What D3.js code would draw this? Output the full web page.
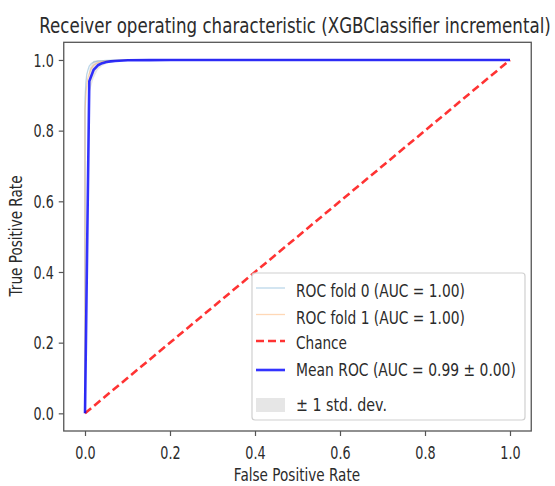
<!DOCTYPE html>
<html>
<head>
<meta charset="utf-8">
<script src="https://cdn.jsdelivr.net/npm/d3@7"></script>
<style>
  html, body { margin: 0; padding: 0; background: #fff; }
  svg { display: block; }
  text { font-family: "DejaVu Sans", sans-serif; fill: #2b2b2b; }
</style>
</head>
<body>
<svg id="chart" width="555" height="486"></svg>
<script>
// ---------- data ----------
const titleText = "Receiver operating characteristic (XGBClassifier incremental)";
const xLabel = "False Positive Rate";
const yLabel = "True Positive Rate";
const tickValues = [0.0, 0.2, 0.4, 0.6, 0.8, 1.0];
const tickLabels = ["0.0", "0.2", "0.4", "0.6", "0.8", "1.0"];

const fold0Fpr = [0, 0, 0.002, 0.004, 0.007, 0.010, 0.015, 0.020, 0.030, 0.050, 0.080, 1.0];
const fold0Tpr = [0, 0.89, 0.935, 0.958, 0.972, 0.983, 0.990, 0.994, 0.997, 0.999, 1.0, 1.0];
const fold1Fpr = [0, 0, 0.003, 0.006, 0.010, 0.014, 0.020, 0.028, 0.040, 0.060, 0.100, 1.0];
const fold1Tpr = [0, 0.86, 0.915, 0.945, 0.962, 0.975, 0.985, 0.991, 0.995, 0.998, 1.0, 1.0];

const meanFpr = [0, 0.0101, 0.0202, 0.0303, 0.0404, 0.0505, 0.0606, 0.0707, 0.0808, 0.1010, 0.1515, 0.2020, 0.3030, 0.5051, 0.7071, 1.0];
const meanTpr = [0, 0.940, 0.972, 0.985, 0.991, 0.994, 0.996, 0.997, 0.998, 0.999, 0.9995, 1.0, 1.0, 1.0, 1.0, 1.0];
const upperTpr = [0, 0.975, 0.998, 1.0, 1.0, 1.0, 1.0, 1.0, 1.0, 1.0, 1.0, 1.0, 1.0, 1.0, 1.0, 1.0];
const lowerTpr = [0, 0.905, 0.948, 0.972, 0.983, 0.989, 0.992, 0.994, 0.996, 0.998, 0.999, 1.0, 1.0, 1.0, 1.0, 1.0];

const chanceX = [0, 1];
const chanceY = [0, 1];

const legendLabels = ["ROC fold 0 (AUC = 1.00)", "ROC fold 1 (AUC = 1.00)", "Chance", "Mean ROC (AUC = 0.99 \u00b1 0.00)", "\u00b1 1 std. dev."];

// ---------- layout ----------
const svg = d3.select("#chart");
const pL = 63.75, pR = 531.25, pT = 42.3, pB = 431;
const x = d3.scaleLinear().domain([-0.05, 1.05]).range([pL, pR]);
const y = d3.scaleLinear().domain([-0.05, 1.05]).range([pB, pT]);
const SX = 0.8;
const legendWidths = [169, 169, 51, 220, 91];

// text drawn at natural size, then squeezed horizontally with a transform
function squeezedText(parent, px, py, str, size, anchor, opts) {
  const g = parent.append("g");
  const tx = g.append("text").attr("x", 0).attr("y", 0).attr("text-anchor", anchor)
    .style("font-size", size + "px").text(str);
  if (opts.dy) tx.attr("dy", opts.dy);
  const n = tx.node().getComputedTextLength();
  const s = opts.width ? opts.width / n : opts.factor;
  const rot = opts.rotate ? ` rotate(${opts.rotate})` : "";
  g.attr("transform", `translate(${px},${py})${rot} scale(${s},1)`);
  return g;
}
function squeeze(sel, factor) {
  sel.each(function() {
    const n = this.getComputedTextLength();
    d3.select(this).attr("textLength", n * factor).attr("lengthAdjust", "spacingAndGlyphs");
  });
}

const defs = svg.append("defs");
defs.append("clipPath").attr("id", "plotclip")
  .append("rect").attr("x", pL).attr("y", pT).attr("width", pR - pL).attr("height", pB - pT);

const plot = svg.append("g").attr("clip-path", "url(#plotclip)");

// std band
const idx = d3.range(meanFpr.length);
plot.append("path")
  .datum(idx)
  .attr("d", d3.area().x(i => x(meanFpr[i])).y0(i => y(lowerTpr[i])).y1(i => y(upperTpr[i])))
  .attr("fill", "#808080").attr("fill-opacity", 0.2);

// fold lines
const lineXY = (xs, ys) => d3.line().x(i => x(xs[i])).y(i => y(ys[i]))(d3.range(xs.length));
plot.append("path").attr("d", lineXY(fold0Fpr, fold0Tpr))
  .attr("fill", "none").attr("stroke", "#1f77b4").attr("stroke-opacity", 0.3).attr("stroke-width", 1.3);
plot.append("path").attr("d", lineXY(fold1Fpr, fold1Tpr))
  .attr("fill", "none").attr("stroke", "#ff7f0e").attr("stroke-opacity", 0.3).attr("stroke-width", 1.3);

// chance
plot.append("path").attr("d", lineXY(chanceX, chanceY))
  .attr("fill", "none").attr("stroke", "#ff0000").attr("stroke-opacity", 0.8)
  .attr("stroke-width", 2.6).attr("stroke-dasharray", "8,4");

// mean
plot.append("path").attr("d", lineXY(meanFpr, meanTpr))
  .attr("fill", "none").attr("stroke", "#0000ff").attr("stroke-opacity", 0.8)
  .attr("stroke-width", 2.6).attr("stroke-linejoin", "round");

// axes
const xAxis = svg.append("g").attr("transform", `translate(0,${pB})`)
  .call(d3.axisBottom(x).tickValues(tickValues).tickFormat((d, i) => tickLabels[i]).tickSize(5).tickPadding(4));
const yAxis = svg.append("g").attr("transform", `translate(${pL},0)`)
  .call(d3.axisLeft(y).tickValues(tickValues).tickFormat((d, i) => tickLabels[i]).tickSize(5).tickPadding(5));
[xAxis, yAxis].forEach(a => {
  a.select(".domain").remove();
  a.selectAll(".tick line").attr("stroke", "#555").attr("stroke-width", 1.2);
  a.selectAll(".tick text").style("font-family", "DejaVu Sans").style("font-size", "17px").attr("fill", "#333");
});
xAxis.selectAll(".tick text").attr("dy", null).attr("y", 28);
yAxis.selectAll(".tick text").attr("dy", "0.36em");
squeeze(xAxis.selectAll(".tick text"), 0.75);
squeeze(yAxis.selectAll(".tick text"), 0.75);

// frame
svg.append("rect").attr("x", pL).attr("y", pT).attr("width", pR - pL).attr("height", pB - pT)
  .attr("fill", "none").attr("stroke", "#555").attr("stroke-width", 1.3);

// title
squeezedText(svg, 295, 33, titleText, 21, "middle", { width: 512 });

// axis labels
squeezedText(svg, 297, 481, xLabel, 17, "middle", { factor: SX });
squeezedText(svg, 22, 236, yLabel, 17, "middle", { factor: SX, rotate: -90 });

// legend
const lg = svg.append("g");
lg.append("rect").attr("x", 252).attr("y", 273).attr("width", 273).attr("height", 147)
  .attr("rx", 3).attr("fill", "#fff").attr("fill-opacity", 0.8).attr("stroke", "#d0d0d0").attr("stroke-width", 1.2);
const rowY = [291, 317.5, 343, 370, 405];
const hx0 = 256, hx1 = 285, tx0 = 296;
lg.append("line").attr("x1", hx0).attr("x2", hx1).attr("y1", rowY[0] - 3).attr("y2", rowY[0] - 3)
  .attr("stroke", "#1f77b4").attr("stroke-opacity", 0.3).attr("stroke-width", 1.3);
lg.append("line").attr("x1", hx0).attr("x2", hx1).attr("y1", rowY[1] - 3).attr("y2", rowY[1] - 3)
  .attr("stroke", "#ff7f0e").attr("stroke-opacity", 0.3).attr("stroke-width", 1.3);
lg.append("line").attr("x1", hx0).attr("x2", hx1).attr("y1", rowY[2] - 2).attr("y2", rowY[2] - 2)
  .attr("stroke", "#ff0000").attr("stroke-opacity", 0.8).attr("stroke-width", 2.6).attr("stroke-dasharray", "8,4");
lg.append("line").attr("x1", hx0).attr("x2", hx1).attr("y1", rowY[3]).attr("y2", rowY[3])
  .attr("stroke", "#0000ff").attr("stroke-opacity", 0.8).attr("stroke-width", 2.6);
lg.append("rect").attr("x", hx0).attr("y", rowY[4] - 7).attr("width", hx1 - hx0).attr("height", 14)
  .attr("fill", "#808080").attr("fill-opacity", 0.2);
legendLabels.forEach((lab, i) => {
  squeezedText(lg, tx0, rowY[i], lab, 17, "start", { width: legendWidths[i], dy: "0.36em" });
});
</script>
</body>
</html>
